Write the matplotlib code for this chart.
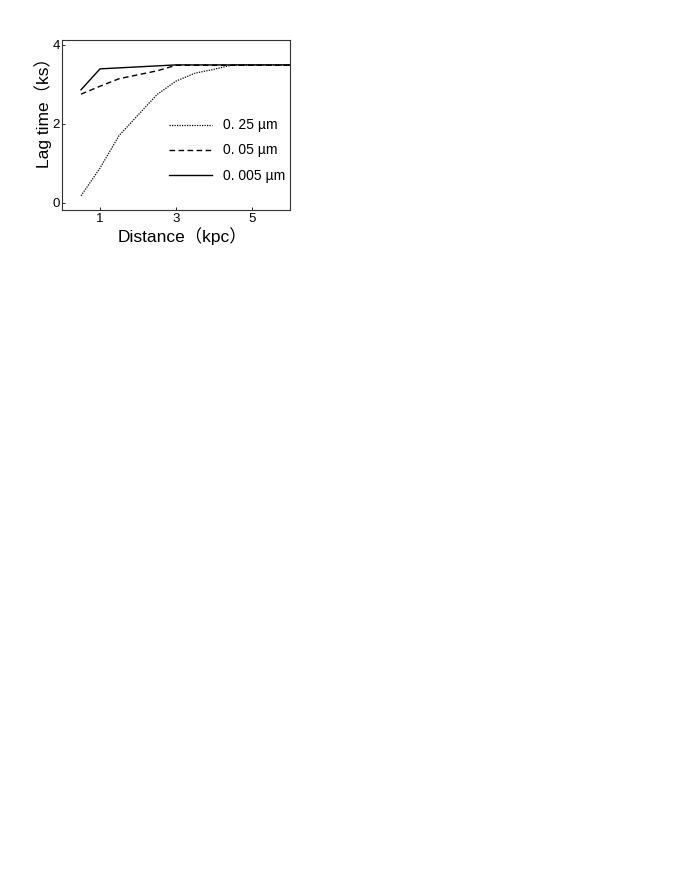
import matplotlib
matplotlib.use("Agg")
import matplotlib.pyplot as plt

plt.rcParams['font.family'] = ['Liberation Sans', 'Noto Sans CJK SC', 'DejaVu Sans']

# distance (kpc) and lag time (ks) for each grain size
x_025 = [0.5, 1.0, 1.5, 2.5, 3.0, 3.5, 4.0, 4.5, 6.0]
y_025 = [0.18, 0.88, 1.70, 2.74, 3.08, 3.28, 3.38, 3.49, 3.49]

x_005 = [0.5, 1.0, 1.5, 2.5, 3.0, 6.0]
y_005 = [2.75, 2.95, 3.14, 3.34, 3.48, 3.48]

x_0005 = [0.5, 1.0, 3.0, 6.0]
y_0005 = [2.86, 3.39, 3.49, 3.49]

labels = ["0. 25 µm", "0. 05 µm", "0. 005 µm"]

fig = plt.figure(figsize=(6.8, 8.8), dpi=100)
ax = fig.add_axes([62 / 680, 1 - 210 / 880, 228 / 680, 170 / 880])

ax.plot(x_025, y_025, color="black", linestyle=(0, (1, 1)), linewidth=0.9, label=labels[0])
ax.plot(x_005, y_005, color="black", linestyle=(0, (4, 2.5)), linewidth=1.0, label=labels[1])
ax.plot(x_0005, y_0005, color="black", linestyle="-", linewidth=1.0, label=labels[2])

ax.set_xlim(0, 6)
ax.set_ylim(-0.18, 4.12)
ax.set_xticks([1, 3, 5])
ax.set_yticks([0, 2, 4])
ax.tick_params(direction="in", length=2, width=0.6, labelsize=9.5, pad=1.5)
ax.tick_params(axis="x", pad=2.5)

ax.set_xlabel("Distance（kpc）", fontsize=12.5)
ax.set_ylabel("Lag time（ks）", fontsize=12.5)
ax.xaxis.set_label_coords(120 / 228, -17 / 170)
ax.yaxis.set_label_coords(-10 / 228, 101 / 170)

for s in ax.spines.values():
    s.set_color("#333333")
    s.set_linewidth(0.8)

ax.legend(loc="center right", bbox_to_anchor=(1.035, 0.35), frameon=False,
          fontsize=10, handlelength=3.1, labelspacing=0.8, handletextpad=0.8)

fig.savefig("out.png", dpi=100)
